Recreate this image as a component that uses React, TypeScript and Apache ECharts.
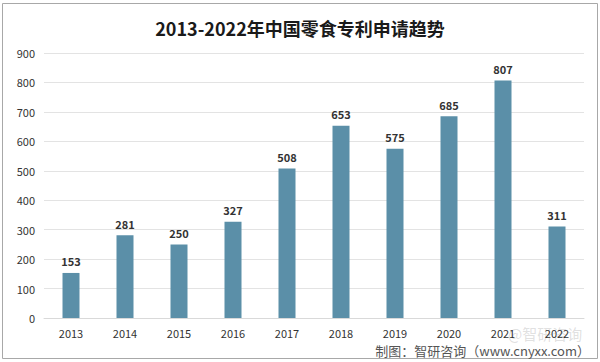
import React, { useEffect, useRef } from "react";
import * as echarts from "echarts";

const titleText = "2013-2022年中国零食专利申请趋势";
const years = ["2013", "2014", "2015", "2016", "2017", "2018", "2019", "2020", "2021", "2022"];
const patents = [153, 281, 250, 327, 508, 653, 575, 685, 807, 311];
const sourceText = "制图：智研咨询（www.cnyxx.com）";
const watermarkText = "@智研咨询";

const FONT = "'Noto Sans CJK SC', 'Noto Sans', sans-serif";

export default function App() {
  const ref = useRef<HTMLDivElement>(null);
  useEffect(() => {
    if (!ref.current) return;
    const chart = echarts.init(ref.current, undefined, { renderer: "svg" });
    chart.setOption({
      animation: false,
      backgroundColor: "#ffffff",
      title: {
        text: titleText,
        left: "center",
        top: 14,
        textStyle: { fontFamily: FONT, fontSize: 18, fontWeight: "bold", color: "#1a1a1a" },
      },
      grid: { left: 44, right: 16, top: 53, bottom: 44 },
      xAxis: {
        type: "category",
        data: years,
        axisLine: { lineStyle: { color: "#d9d9d9" } },
        axisTick: { show: false },
        axisLabel: { fontFamily: FONT, fontSize: 11, color: "#333", margin: 9 },
      },
      yAxis: {
        type: "value",
        min: 0,
        max: 900,
        interval: 100,
        axisLine: { show: false },
        axisTick: { show: false },
        axisLabel: { fontFamily: FONT, fontSize: 11, color: "#333", margin: 9 },
        splitLine: { lineStyle: { color: "#e3e3e3" } },
      },
      series: [
        {
          type: "bar",
          data: patents,
          barWidth: 17,
          itemStyle: { color: "#5b8fa8" },
          label: {
            show: true,
            position: "top",
            distance: 6,
            fontFamily: FONT,
            fontSize: 11,
            fontWeight: "bold",
            color: "#333",
          },
        },
      ],
      graphic: [
        {
          type: "rect",
          shape: { x: 2.5, y: 3.5, width: 595, height: 355 },
          style: { fill: "none", stroke: "#a8a8a8", lineWidth: 1 },
          silent: true,
        },
        {
          type: "text",
          right: 10,
          top: 344,
          style: { text: sourceText, font: `13px ${FONT}`, fill: "#555" },
        },
        {
          type: "text",
          left: 508,
          top: 326,
          style: { text: watermarkText, font: `15px ${FONT}`, fill: "rgba(150,150,150,0.3)" },
        },
      ],
    });
    return () => chart.dispose();
  }, []);
  return <div ref={ref} style={{ width: 600, height: 362, position: "absolute", left: 0, top: 0 }} />;
}
